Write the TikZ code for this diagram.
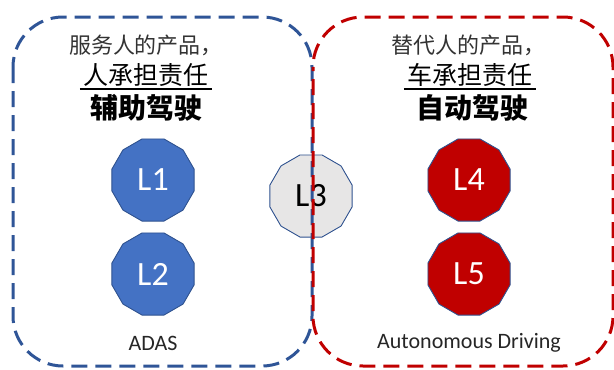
\documentclass[tikz,border=0pt]{standalone}
\usepackage{fontspec}
\setmainfont{Carlito}
\newfontfamily\cjk{Noto Sans CJK SC}
\usetikzlibrary{shapes.geometric}
\definecolor{frameblue}{HTML}{2F5597}
\definecolor{levelblue}{HTML}{4472C4}
\definecolor{edgeblue}{HTML}{2F528F}
\definecolor{framered}{HTML}{C00000}
\definecolor{levelgray}{HTML}{E7E6E6}
\tikzset{
  frame/.style={line width=3pt, rounded corners=50pt, dash pattern=on 16pt off 8pt},
  level/.style={regular polygon, regular polygon sides=12, minimum size=85pt,
    inner sep=0pt, draw=edgeblue, line width=0.9pt,
    font=\fontsize{34}{36}\selectfont},
  headA/.style={font=\cjk\fontsize{22}{24}\selectfont, text=black!80},
  headB/.style={font=\cjk\fontsize{25}{27}\selectfont, text=black},
  headC/.style={font=\cjk\bfseries\fontsize{28}{30}\selectfont},
  caption/.style={font=\fontsize{22}{24}\selectfont, text=black!85},
  uline/.style={line width=1.3pt}
}
\begin{document}
\begin{tikzpicture}[x=1pt,y=-1pt]
\useasboundingbox (0,0) rectangle (614,370);

% levels
\node[level, fill=levelblue, draw=edgeblue, text=white] (l1) at (153,180) {L1};
\node[level, fill=levelblue, draw=edgeblue, text=white] (l2) at (153,274) {L2};
\node[level, fill=levelgray, text=black] (l3) at (311,196) {L3};
\node[level, fill=framered, text=white] (l4) at (469,180) {L4};
\node[level, fill=framered, text=white] (l5) at (469,274) {L5};

% dashed frames, drawn over L3
\draw[frame, draw=frameblue] (13,17) rectangle (312,366);
\draw[frame, draw=framered, dash phase=12pt] (313,17) rectangle (613,366);

% headings, left
\node[headA] (la) at (146,45) {服务人的产品，};
\node[headB] (lb) at (146,75) {人承担责任};
\draw[uline] (lb.south west) ++(0,-1) coordinate (lbw) -- (lbw -| lb.south east);
\node[headC] (lc) at (146,108) {辅助驾驶};

% headings, right
\node[headA] (ra) at (468,45) {替代人的产品，};
\node[headB] (rb) at (470,75) {车承担责任};
\draw[uline] (rb.south west) ++(0,-1) coordinate (rbw) -- (rbw -| rb.south east);
\node[headC] (rc) at (472,108) {自动驾驶};

% captions
\node[caption] (cadas) at (153,343) {ADAS};
\node[caption] (cad) at (469,343) {Autonomous Driving};
\end{tikzpicture}
\end{document}
